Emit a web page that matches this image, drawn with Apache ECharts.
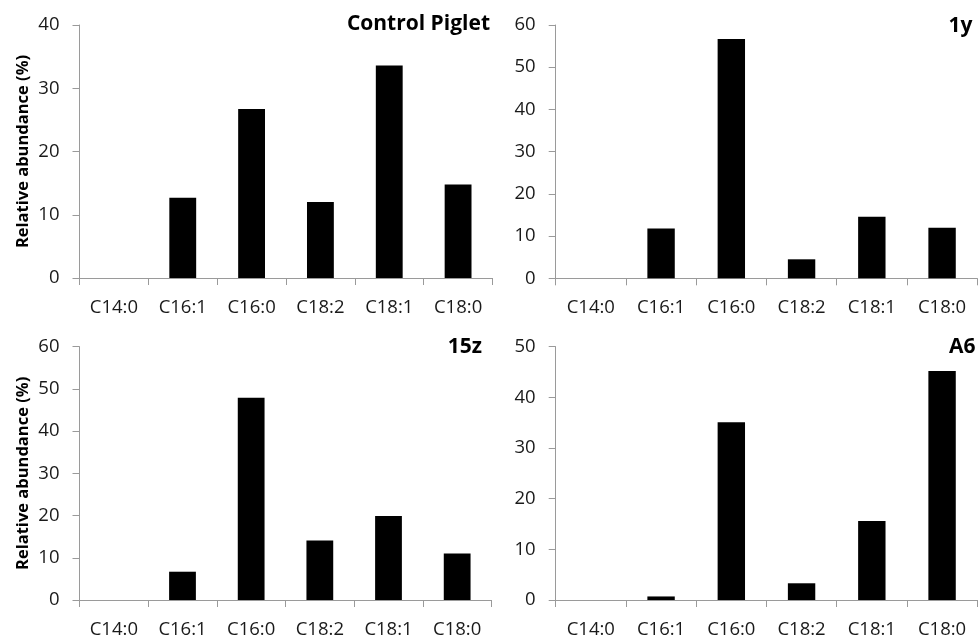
<!DOCTYPE html>
<html>
<head>
<meta charset="utf-8">
<script src="https://cdn.jsdelivr.net/npm/echarts@6/dist/echarts.min.js"></script>
<style>html,body{margin:0;padding:0;background:#fff}#c{width:979px;height:637px}</style>
</head>
<body>
<div id="c"></div>
<script>
const categories = ['C14:0','C16:1','C16:0','C18:2','C18:1','C18:0'];
const controlPiglet = [0, 12.7, 26.7, 12.0, 33.6, 14.8];
const y1 = [0, 11.8, 56.7, 4.5, 14.6, 12.0];
const z15 = [0, 6.7, 47.9, 14.1, 19.9, 11.0];
const a6 = [0, 0.7, 35.1, 3.3, 15.6, 45.2];
const panelTitles = ['Control Piglet', '1y', '15z', 'A6'];
const yMax = [40, 60, 60, 50];
const yName = 'Relative abundance (%)';

const FONT = '"Open Sans", Lato, sans-serif';
const seriesData = [controlPiglet, y1, z15, a6];
const grids = [
  {left: 79.5, top: 25, width: 413, height: 253},
  {left: 555.7, top: 25, width: 421.5, height: 253.3},
  {left: 79.5, top: 346.7, width: 412, height: 253.3},
  {left: 555.7, top: 346.7, width: 421.5, height: 253.3}
].map(g => Object.assign(g, {containLabel: false, outerBoundsMode: 'none'}));
const titlePos = [
  {right: 489, top: 14},
  {right: 6.5, top: 16},
  {right: 497, top: 337},
  {right: 3.5, top: 337}
];
const axisColor = '#9a9a9a';
const chart = echarts.init(document.getElementById('c'));
chart.setOption({
  animation: false,
  backgroundColor: '#fff',
  title: panelTitles.map((t, i) => ({
    text: t, right: titlePos[i].right, top: titlePos[i].top, padding: 0,
    textStyle: {fontFamily: FONT, fontWeight: 'bold', fontSize: 21, color: '#000'}
  })),
  grid: grids,
  xAxis: grids.map((g, i) => ({
    type: 'category', gridIndex: i, data: categories,
    axisLine: {lineStyle: {color: axisColor, width: 1}},
    axisTick: {show: true, length: 7, lineStyle: {color: axisColor}},
    axisLabel: {fontFamily: FONT, fontSize: 18.5, color: '#1a1a1a', margin: 20, interval: 0}
  })),
  yAxis: grids.map((g, i) => ({
    type: 'value', gridIndex: i, min: 0, max: yMax[i], interval: 10,
    name: (i % 2 === 0) ? yName : '',
    nameLocation: 'middle', nameRotate: 90, nameGap: 48,
    nameTextStyle: {fontFamily: FONT, fontWeight: 'bold', fontSize: 16.5, color: '#000'},
    axisLine: {show: true, lineStyle: {color: axisColor, width: 1}},
    axisTick: {show: true, length: 7, lineStyle: {color: axisColor}},
    splitLine: {show: false},
    axisLabel: {fontFamily: FONT, fontSize: 18.5, color: '#1a1a1a', margin: 20}
  })),
  series: seriesData.map((d, i) => ({
    type: 'bar', xAxisIndex: i, yAxisIndex: i, data: d,
    barWidth: '39%', itemStyle: {color: '#000'}
  }))
});
</script>
</body>
</html>
